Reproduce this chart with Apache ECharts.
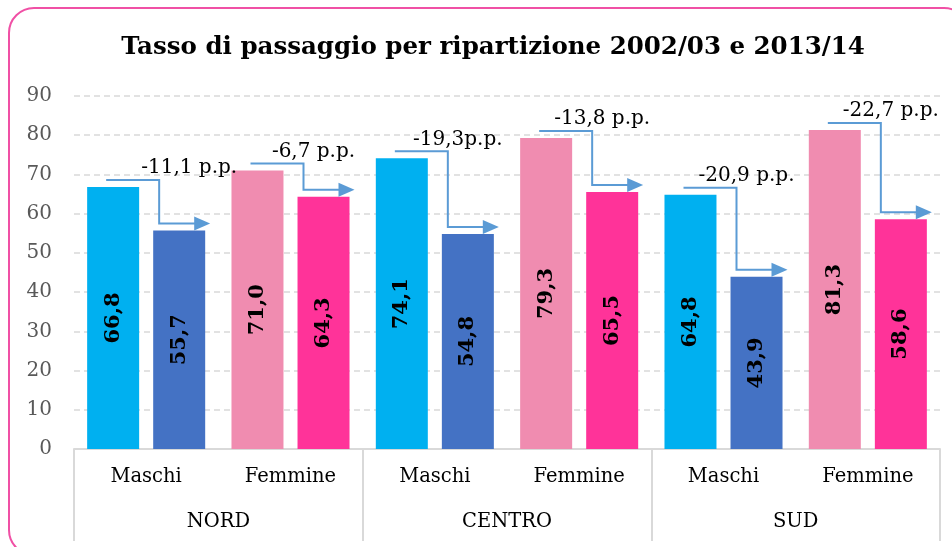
<!DOCTYPE html>
<html>
<head>
<meta charset="utf-8">
<script src="https://cdn.jsdelivr.net/npm/echarts@6/dist/echarts.min.js"></script>
<style>
  html, body { margin: 0; padding: 0; background: #fff; }
  #chart { width: 952px; height: 547px; }
</style>
</head>
<body>
<div id="chart"></div>
<script>
// data
const regions = ['NORD', 'CENTRO', 'SUD'];
const genders = ['Maschi', 'Femmine', 'Maschi', 'Femmine', 'Maschi', 'Femmine'];
const rate2002 = [66.8, 71.0, 74.1, 79.3, 64.8, 81.3];
const rate2013 = [55.7, 64.3, 54.8, 65.5, 43.9, 58.6];
const diffLabels = ['-11,1 p.p.', '-6,7 p.p.', '-19,3p.p.', '-13,8 p.p.', '-20,9 p.p.', '-22,7 p.p.'];
const yTicks = [0, 10, 20, 30, 40, 50, 60, 70, 80, 90];

// colours: index 0 = Maschi, 1 = Femmine
const colors2002 = ['#00b0f0', '#f08cb0'];
const colors2013 = ['#4472c4', '#ff3399'];
const arrowColor = '#5b9bd5';
const serif = '"DejaVu Serif", serif';
const BAR_W = 52;
// small horizontal nudge of the difference labels (px)
const labelNudge = [20, 0, 0, 0, 0, 0];

function barItems(values, colors) {
    return values.map((v, i) => ({ value: v, itemStyle: { color: colors[i % 2] } }));
}

// elbow arrow from first bar of a pair to the second one
function renderArrow(params, api) {
    const i = api.value(0);
    const top1 = api.coord([i, rate2002[i]]);
    const top2 = api.coord([i, rate2013[i]]);
    const cx = top1[0];
    const y1 = top1[1] - 7;
    const y2 = top2[1] - 7;
    const xStart = cx - 40;
    const xMid = cx + 13;
    const xTip = cx + 64;
    const headLen = 16;
    const headHalf = 7;
    return {
        type: 'group',
        children: [
            {
                type: 'polyline',
                shape: { points: [[xStart, y1], [xMid, y1], [xMid, y2], [xTip - headLen + 1, y2]] },
                style: { stroke: arrowColor, lineWidth: 2, fill: null }
            },
            {
                type: 'polygon',
                shape: { points: [[xTip - headLen, y2 - headHalf], [xTip, y2], [xTip - headLen, y2 + headHalf]] },
                style: { fill: arrowColor }
            },
            {
                type: 'text',
                x: xMid + 10 + labelNudge[i],
                y: y1 - 2,
                style: {
                    text: diffLabels[i],
                    fill: '#000',
                    font: '20px ' + serif,
                    align: 'center',
                    verticalAlign: 'bottom'
                }
            }
        ]
    };
}

const chart = echarts.init(document.getElementById('chart'), null, { renderer: 'canvas' });

const valueLabel = {
    show: true,
    position: 'inside',
    rotate: 90,
    fontFamily: serif,
    fontWeight: 'bold',
    fontSize: 21,
    color: '#000',
    formatter: p => p.value.toFixed(1).replace('.', ',')
};

const option = {
    animation: false,
    backgroundColor: '#fff',
    title: {
        text: 'Tasso di passaggio per ripartizione 2002/03 e 2013/14',
        left: 488,
        textAlign: 'center',
        top: 30,
        textStyle: { fontFamily: serif, fontWeight: 'bold', fontSize: 24.5, color: '#000' }
    },
    graphic: [{
        type: 'rect',
        shape: { x: 9, y: 8, width: 960, height: 547, r: 25 },
        style: { fill: null, stroke: '#f050a5', lineWidth: 2 },
        silent: true,
        z: -1
    }],
    grid: { left: 74, right: 12, top: 96, bottom: 98 },
    xAxis: [
        {
            type: 'category',
            data: genders,
            axisLine: { show: true, lineStyle: { color: '#d9d9d9', width: 2 } },
            axisTick: { show: false },
            axisLabel: { margin: 18, fontFamily: serif, fontSize: 19.5, color: '#000' }
        },
        {
            type: 'category',
            data: regions,
            position: 'bottom',
            axisLine: { show: false },
            axisTick: { show: true, length: 92, interval: 0, lineStyle: { color: '#d9d9d9', width: 2 } },
            axisLabel: { margin: 63, fontFamily: serif, fontSize: 19.5, color: '#000' }
        }
    ],
    yAxis: {
        type: 'value',
        min: yTicks[0],
        max: yTicks[yTicks.length - 1],
        interval: 10,
        axisLine: { show: false },
        axisTick: { show: false },
        axisLabel: { margin: 22, fontFamily: serif, fontSize: 20, color: '#595959' },
        splitLine: { lineStyle: { color: '#d9d9d9', type: [6, 4], width: 1.5 } }
    },
    series: [
        {
            name: '2002/03',
            type: 'bar',
            barWidth: BAR_W,
            barGap: '27%',
            data: barItems(rate2002, colors2002),
            label: valueLabel
        },
        {
            name: '2013/14',
            type: 'bar',
            barWidth: BAR_W,
            barGap: '27%',
            data: barItems(rate2013, colors2013),
            label: valueLabel
        },
        {
            type: 'custom',
            renderItem: renderArrow,
            data: genders.map((g, i) => [i]),
            z: 5,
            silent: true
        }
    ]
};

chart.setOption(option);
</script>
</body>
</html>
